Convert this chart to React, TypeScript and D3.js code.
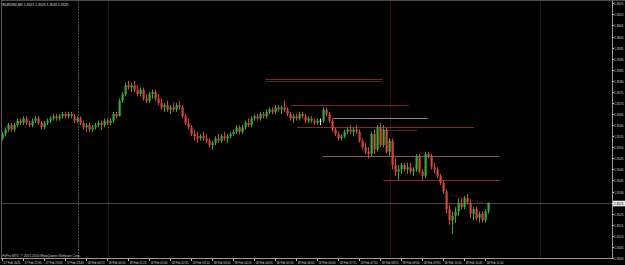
import React, { useEffect, useRef } from "react";
import * as d3 from "d3";

const chartTitle = "EURUSD,M5  1.3521 1.3525 1.3520 1.3525";
const copyright = "FxPro MT4, \u00a9 2001-2010 MetaQuotes Software Corp.";

// [open, high, low, close]
const candles: [number, number, number, number][] = [
  [1.3554, 1.3557, 1.3553, 1.3556], [1.3556, 1.3559, 1.3555, 1.3558], [1.3558, 1.3561, 1.3557, 1.356], [1.356, 1.3561, 1.3557, 1.3558],
  [1.3558, 1.3561, 1.3557, 1.356], [1.356, 1.3563, 1.3559, 1.3562], [1.3562, 1.3563, 1.356, 1.3561], [1.3561, 1.3564, 1.356, 1.3563],
  [1.3563, 1.3564, 1.356, 1.3561], [1.3561, 1.3562, 1.3559, 1.356], [1.356, 1.3563, 1.3559, 1.3562], [1.3562, 1.3564, 1.3561, 1.3563],
  [1.3563, 1.3564, 1.356, 1.3561], [1.3561, 1.3562, 1.3558, 1.3559], [1.3559, 1.3562, 1.3558, 1.3561], [1.3561, 1.3563, 1.356, 1.3562],
  [1.3562, 1.3564, 1.3561, 1.3563], [1.3563, 1.3565, 1.3562, 1.3564], [1.3564, 1.3565, 1.3562, 1.3563], [1.3563, 1.3565, 1.3562, 1.3564],
  [1.3564, 1.3566, 1.3563, 1.3565], [1.3565, 1.3566, 1.3563, 1.3564], [1.3564, 1.3566, 1.3563, 1.3565], [1.3565, 1.3566, 1.3563, 1.3564],
  [1.3564, 1.3565, 1.3561, 1.3562], [1.3562, 1.3564, 1.3561, 1.3563], [1.3563, 1.3564, 1.356, 1.3561], [1.3561, 1.3562, 1.3558, 1.3559],
  [1.3559, 1.3561, 1.3557, 1.356], [1.356, 1.3561, 1.3557, 1.3558], [1.3558, 1.356, 1.3557, 1.3559], [1.3559, 1.3561, 1.3558, 1.356],
  [1.356, 1.3562, 1.3559, 1.3561], [1.3561, 1.3562, 1.3558, 1.356], [1.356, 1.3563, 1.3559, 1.3562], [1.3562, 1.3563, 1.356, 1.3561],
  [1.3561, 1.3563, 1.356, 1.3562], [1.3562, 1.3566, 1.3561, 1.3565], [1.3565, 1.3566, 1.3563, 1.3564], [1.3564, 1.3572, 1.3564, 1.3571],
  [1.3571, 1.3575, 1.357, 1.3574], [1.3574, 1.3579, 1.3573, 1.3578], [1.3578, 1.358, 1.3576, 1.3577], [1.3577, 1.3579, 1.3575, 1.3578],
  [1.3578, 1.358, 1.3575, 1.3576], [1.3576, 1.3578, 1.3573, 1.3574], [1.3574, 1.3577, 1.3573, 1.3576], [1.3576, 1.3577, 1.3571, 1.3572],
  [1.3572, 1.3574, 1.357, 1.3571], [1.3571, 1.3575, 1.357, 1.3574], [1.3574, 1.3576, 1.3572, 1.3575], [1.3575, 1.3576, 1.3571, 1.3572],
  [1.3572, 1.3574, 1.3569, 1.357], [1.357, 1.3572, 1.3567, 1.3568], [1.3568, 1.357, 1.3566, 1.3569], [1.3569, 1.3571, 1.3566, 1.3567],
  [1.3567, 1.3569, 1.3565, 1.3568], [1.3568, 1.357, 1.3566, 1.3567], [1.3567, 1.357, 1.3566, 1.3569], [1.3569, 1.3571, 1.3567, 1.3568],
  [1.3568, 1.3569, 1.3563, 1.3564], [1.3564, 1.3565, 1.356, 1.3561], [1.3561, 1.3563, 1.3558, 1.3559], [1.3559, 1.356, 1.3555, 1.3556],
  [1.3556, 1.3558, 1.3553, 1.3555], [1.3555, 1.3557, 1.3552, 1.3554], [1.3554, 1.3556, 1.3553, 1.3555], [1.3555, 1.3557, 1.3553, 1.3554],
  [1.3554, 1.3556, 1.3552, 1.3553], [1.3553, 1.3554, 1.355, 1.3551], [1.3551, 1.3553, 1.3549, 1.3552], [1.3552, 1.3555, 1.3551, 1.3554],
  [1.3554, 1.3556, 1.3552, 1.3553], [1.3553, 1.3556, 1.3552, 1.3555], [1.3555, 1.3557, 1.3553, 1.3554], [1.3554, 1.3556, 1.3552, 1.3555],
  [1.3555, 1.3557, 1.3554, 1.3556], [1.3556, 1.3558, 1.3555, 1.3557], [1.3557, 1.356, 1.3556, 1.3559], [1.3559, 1.356, 1.3556, 1.3557],
  [1.3557, 1.356, 1.3556, 1.3559], [1.3559, 1.3562, 1.3558, 1.3561], [1.3561, 1.3563, 1.3559, 1.356], [1.356, 1.3564, 1.3559, 1.3563],
  [1.3563, 1.3565, 1.3562, 1.3564], [1.3564, 1.3565, 1.3562, 1.3563], [1.3563, 1.3566, 1.3562, 1.3565], [1.3565, 1.3566, 1.3563, 1.3564],
  [1.3564, 1.3567, 1.3563, 1.3566], [1.3566, 1.3568, 1.3565, 1.3567], [1.3567, 1.3568, 1.3565, 1.3566], [1.3566, 1.3569, 1.3565, 1.3568],
  [1.3568, 1.3569, 1.3566, 1.3567], [1.3567, 1.3569, 1.3565, 1.3568], [1.3568, 1.3571, 1.3566, 1.3567], [1.3567, 1.3568, 1.3564, 1.3565],
  [1.3565, 1.3566, 1.3562, 1.3563], [1.3563, 1.3565, 1.3561, 1.3564], [1.3564, 1.3565, 1.3562, 1.3563], [1.3563, 1.3566, 1.3562, 1.3565],
  [1.3565, 1.3566, 1.3563, 1.3564], [1.3564, 1.3565, 1.3561, 1.3562], [1.3562, 1.3564, 1.3561, 1.3563], [1.3563, 1.3564, 1.3561, 1.3562],
  [1.3562, 1.3563, 1.356, 1.3561], [1.3561, 1.3563, 1.356, 1.3562], [1.3562, 1.3563, 1.356, 1.3562], [1.3562, 1.3568, 1.3561, 1.3567],
  [1.3567, 1.3568, 1.3564, 1.3565], [1.3565, 1.3566, 1.3561, 1.3562], [1.3562, 1.3563, 1.3557, 1.3558], [1.3558, 1.3559, 1.3555, 1.3556],
  [1.3556, 1.3557, 1.3553, 1.3554], [1.3554, 1.3556, 1.3553, 1.3555], [1.3555, 1.3558, 1.3554, 1.3557], [1.3557, 1.3559, 1.3556, 1.3558],
  [1.3558, 1.356, 1.3556, 1.3557], [1.3557, 1.3559, 1.3555, 1.3558], [1.3558, 1.356, 1.3556, 1.3557], [1.3557, 1.3558, 1.3552, 1.3553],
  [1.3553, 1.3554, 1.3549, 1.355], [1.355, 1.3552, 1.3547, 1.3548], [1.3548, 1.355, 1.3545, 1.3547], [1.3547, 1.3557, 1.3546, 1.3556],
  [1.3556, 1.3558, 1.3547, 1.3549], [1.3549, 1.356, 1.3548, 1.3559], [1.3559, 1.3561, 1.355, 1.3551], [1.3551, 1.356, 1.355, 1.3558],
  [1.3558, 1.3559, 1.3547, 1.3548], [1.3548, 1.3554, 1.3546, 1.3553], [1.3553, 1.3554, 1.354, 1.3542], [1.3542, 1.3545, 1.3537, 1.3539],
  [1.3539, 1.3542, 1.3535, 1.354], [1.354, 1.3543, 1.3538, 1.3542], [1.3542, 1.3543, 1.3539, 1.354], [1.354, 1.3543, 1.3538, 1.3541],
  [1.3541, 1.3543, 1.3538, 1.3539], [1.3539, 1.3541, 1.3537, 1.354], [1.354, 1.3547, 1.3539, 1.3546], [1.3546, 1.3547, 1.3538, 1.3539],
  [1.3539, 1.354, 1.3535, 1.3537], [1.3537, 1.3548, 1.3536, 1.3547], [1.3547, 1.3548, 1.3545, 1.3546], [1.3546, 1.3547, 1.354, 1.3541],
  [1.3541, 1.3543, 1.3538, 1.354], [1.354, 1.3541, 1.3536, 1.3537], [1.3537, 1.3538, 1.3533, 1.3534], [1.3534, 1.3535, 1.3529, 1.353],
  [1.353, 1.3531, 1.352, 1.3522], [1.3522, 1.3524, 1.3515, 1.3517], [1.3517, 1.3521, 1.3511, 1.3519], [1.3519, 1.3523, 1.3516, 1.3521],
  [1.3521, 1.3527, 1.3519, 1.3525], [1.3525, 1.3527, 1.3522, 1.3523], [1.3523, 1.3528, 1.3522, 1.3527], [1.3527, 1.3529, 1.3524, 1.3525],
  [1.3525, 1.3526, 1.3518, 1.352], [1.352, 1.3523, 1.3517, 1.3522], [1.3522, 1.3523, 1.3517, 1.3518], [1.3518, 1.3521, 1.3516, 1.352],
  [1.352, 1.3521, 1.3516, 1.3517], [1.3517, 1.3522, 1.3516, 1.3521], [1.3521, 1.3525, 1.352, 1.3525],
];

const priceTicks = d3.range(0, 24).map((k) => +(1.35 + k * 0.0005).toFixed(4));
const lastPrice = 1.3525;

const timeLabels = [
  "17 Feb 2011", "17 Feb 22:30", "17 Feb 23:05", "17 Feb 23:40", "18 Feb 00:15", "18 Feb 00:50",
  "18 Feb 01:25", "18 Feb 02:00", "18 Feb 02:35", "18 Feb 03:10", "18 Feb 03:45", "18 Feb 04:20",
  "18 Feb 04:55", "18 Feb 05:30", "18 Feb 06:05", "18 Feb 06:40", "18 Feb 07:15", "18 Feb 07:50",
  "18 Feb 08:25", "18 Feb 09:00", "18 Feb 09:35", "18 Feb 10:10", "18 Feb 10:45", "18 Feb 11:20",
];
const barsPerLabel = 7;

// vertical separators: bar index, colour
const vLineBars = [25, 35, 129, 179];
const vLineColors = ["#9a9a9a", "#6a3a2c", "#8a2424", "#7a2424"];

// horizontal drawn levels: price, from bar, to bar, colour
const hLevelPrices = [1.3581, 1.358, 1.3569, 1.3563, 1.3559, 1.3558, 1.3546, 1.3535];
const hLevelFrom = [87.5, 87.5, 96, 110, 98, 126, 106.5, 126.8];
const hLevelTo = [126.5, 126.5, 135.2, 141.5, 157, 138, 165.5, 165.8];
const hLevelColors = ["#8e2020", "#4e2c2c", "#8a1e1e", "#8a8a8a", "#962020", "#6a1c1c", "#8a5a5a", "#962020"];

// dotted trend line
const trendBars = [149.2, 162.5];
const trendPrices = [1.35285, 1.3524];

const W = 625;
const H = 265;

export default function App() {
  const ref = useRef<SVGSVGElement>(null);

  useEffect(() => {
    const svg = d3.select(ref.current);
    svg.selectAll("*").remove();

    const left = 1, right = 612, top = 0.5, bottom = 258.5;
    const x = d3.scaleLinear().domain([0, 203]).range([3, 612]);
    const y = d3.scaleLinear().domain([1.35, 1.3615]).range([258, 3.3]);

    svg.append("rect").attr("width", W).attr("height", H).attr("fill", "#000");

    const font = "'Liberation Sans', Arial, sans-serif";

    // vertical dotted lines
    vLineBars.forEach((b, i) => {
      const xx = Math.round(x(b)) + 0.5;
      svg.append("line").attr("x1", xx).attr("x2", xx).attr("y1", top).attr("y2", bottom)
        .attr("stroke", vLineColors[i]).attr("stroke-width", 1).attr("stroke-dasharray", "1,2");
    });

    // bid line
    const by = Math.round(y(lastPrice)) + 0.5;
    svg.append("line").attr("x1", left).attr("x2", right).attr("y1", by).attr("y2", by)
      .attr("stroke", "#444").attr("stroke-width", 1.2);

    // horizontal levels
    hLevelPrices.forEach((p, i) => {
      const yy = Math.round(y(p)) + 0.5;
      svg.append("line").attr("x1", x(hLevelFrom[i])).attr("x2", x(hLevelTo[i]))
        .attr("y1", yy).attr("y2", yy).attr("stroke", hLevelColors[i]).attr("stroke-width", 1);
    });

    // trend line
    svg.append("line")
      .attr("x1", x(trendBars[0])).attr("y1", y(trendPrices[0]))
      .attr("x2", x(trendBars[1])).attr("y2", y(trendPrices[1]))
      .attr("stroke", "#a02828").attr("stroke-width", 1).attr("stroke-dasharray", "1,1.5");

    // candles
    const bull = "#3aa83a", bear = "#d2473a";
    const g = svg.append("g");
    candles.forEach(([o, h, l, c], i) => {
      const cx = Math.round(x(i));
      const col = c > o ? bull : c < o ? bear : "#d8d8d8";
      g.append("line").attr("x1", cx - 0.5).attr("x2", cx - 0.5)
        .attr("y1", y(h)).attr("y2", y(l)).attr("stroke", col).attr("stroke-width", 1);
      const y0 = y(Math.max(o, c)), y1 = y(Math.min(o, c));
      g.append("rect").attr("x", cx - 1.5).attr("width", 2.2)
        .attr("y", y0).attr("height", Math.max(1, y1 - y0)).attr("fill", col);
    });

    // frame
    svg.append("line").attr("x1", left).attr("x2", right + 13).attr("y1", top).attr("y2", top)
      .attr("stroke", "#4a4a4a");
    svg.append("line").attr("x1", left + 0.5).attr("x2", left + 0.5).attr("y1", top).attr("y2", bottom)
      .attr("stroke", "#5a5a5a");
    svg.append("line").attr("x1", right + 0.5).attr("x2", right + 0.5).attr("y1", top).attr("y2", bottom)
      .attr("stroke", "#9a9a9a");
    svg.append("line").attr("x1", left).attr("x2", right + 0.5).attr("y1", bottom).attr("y2", bottom)
      .attr("stroke", "#9a9a9a");

    // price axis
    priceTicks.forEach((p) => {
      const yy = Math.round(y(p)) + 0.5;
      svg.append("line").attr("x1", right).attr("x2", right + 2).attr("y1", yy).attr("y2", yy)
        .attr("stroke", "#bbb");
      svg.append("text").attr("x", 614).attr("y", yy + 1.4).text(p.toFixed(4))
        .attr("fill", "#d8d8d8").attr("font-size", 3.9).attr("font-family", font)
        .attr("textLength", 9.5).attr("lengthAdjust", "spacingAndGlyphs");
    });
    const ly = Math.round(y(lastPrice)) + 0.5;
    svg.append("rect").attr("x", 613).attr("y", ly - 2.8).attr("width", 12).attr("height", 5.6).attr("fill", "#e8e8e8");
    svg.append("text").attr("x", 614).attr("y", ly + 1.4).text(lastPrice.toFixed(4))
      .attr("fill", "#000").attr("font-size", 3.9).attr("font-family", font)
      .attr("textLength", 9.5).attr("lengthAdjust", "spacingAndGlyphs");

    // time axis
    timeLabels.forEach((t, k) => {
      const xx = Math.round(x(k * barsPerLabel)) - 1;
      svg.append("line").attr("x1", xx + 0.5).attr("x2", xx + 0.5).attr("y1", bottom).attr("y2", bottom + 2.5)
        .attr("stroke", "#bbb");
      svg.append("text").attr("x", xx + 1.5).attr("y", 264).text(t)
        .attr("fill", "#d8d8d8").attr("font-size", 3.8).attr("font-family", font)
        .attr("textLength", 17).attr("lengthAdjust", "spacingAndGlyphs");
    });

    // title & copyright
    svg.append("text").attr("x", 2.5).attr("y", 5.5).text(chartTitle)
      .attr("fill", "#e0e0e0").attr("font-size", 4).attr("font-family", font)
      .attr("textLength", 66).attr("lengthAdjust", "spacingAndGlyphs");
    svg.append("text").attr("x", 2.5).attr("y", 257).text(copyright)
      .attr("fill", "#d0d0d0").attr("font-size", 3.8).attr("font-family", font)
      .attr("textLength", 78).attr("lengthAdjust", "spacingAndGlyphs");
  }, []);

  return (
    <svg ref={ref} width={W} height={H}
      style={{ position: "fixed", left: 0, top: 0, display: "block", background: "#000" }} />
  );
}
